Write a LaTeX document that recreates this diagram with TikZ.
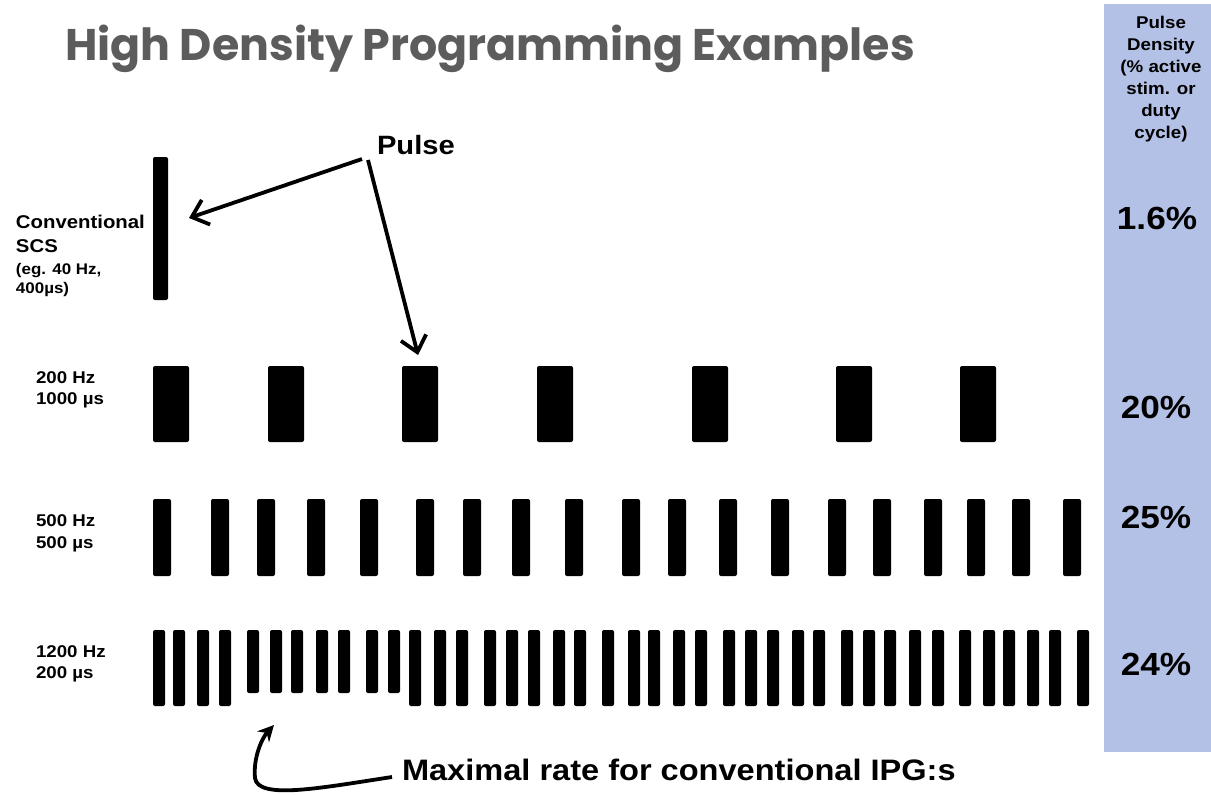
\documentclass[tikz,border=0pt]{standalone}
\usepackage{fontspec}
\usetikzlibrary{arrows.meta}
\newfontfamily\lab{Liberation Sans}[FakeStretch=1.1]
\newfontfamily\ttlf{Poppins}
\definecolor{colblue}{RGB}{180,193,230}
\definecolor{ttlgray}{RGB}{92,92,92}
\newcommand\fsz[2]{\fontsize{#1}{#2}\selectfont}
\begin{document}
\begin{tikzpicture}[x=1pt,y=-1pt,
  pulsebar/.style={fill=black, draw=none, rounded corners=2pt, inner sep=0pt, outer sep=0pt, anchor=north west},
  txt/.style={inner sep=0pt, outer sep=0pt, anchor=base west, font=\lab\bfseries\fsz{17}{20}},
  ctxt/.style={inner sep=0pt, outer sep=0pt, anchor=base, font=\lab\bfseries\fsz{17}{20}},
  pct/.style={inner sep=0pt, outer sep=0pt, anchor=base, font=\lab\bfseries\fsz{32}{36}},
  arr/.style={line width=3.8pt, -{Straight Barb[length=15pt,width=26pt]}},
  carr/.style={line width=3.8pt, -{Stealth[length=16pt,width=16pt]}},
 ]
\useasboundingbox (0,0) rectangle (1211,795);
\fill[white] (0,0) rectangle (1211,795);
% right column
\fill[colblue] (1104,4) rectangle (1212,752);
\node[ctxt] (hd1) at (1161,28) {Pulse};
\node[ctxt] (hd2) at (1161,50) {Density};
\node[ctxt] (hd3) at (1161,72) {(\% active};
\node[ctxt] (hd4) at (1161,94) {stim. or};
\node[ctxt] (hd5) at (1161,116) {duty};
\node[ctxt] (hd6) at (1161,138) {cycle)};
\node[pct] (pd1) at (1157,229.5) {1.6\%};
\node[pct] (pd2) at (1156,418.5) {20\%};
\node[pct] (pd3) at (1156,528.5) {25\%};
\node[pct] (pd4) at (1156,675.5) {24\%};
% title
\node[anchor=base west, inner sep=0pt, text=ttlgray, font=\ttlf\bfseries\fsz{44.3}{50}] (title) at (65,60) {High Density Programming Examples};
% left labels
\node[txt, font=\lab\bfseries\fsz{18.5}{22}] (l1a) at (16,228) {Conventional};
\node[txt, font=\lab\bfseries\fsz{18.5}{22}] (l1b) at (16,252) {SCS};
\node[txt, font=\lab\bfseries\fsz{15.4}{18}] (l1c) at (16,274) {(eg. 40 Hz,};
\node[txt, font=\lab\bfseries\fsz{15.4}{18}] (l1d) at (16,293) {400µs)};
\node[txt] (l2a) at (36,383) {200 Hz};
\node[txt] (l2b) at (36,404) {1000 µs};
\node[txt] (l3a) at (36,526) {500 Hz};
\node[txt] (l3b) at (36,548) {500 µs};
\node[txt] (l4a) at (36,657) {1200 Hz};
\node[txt] (l4b) at (36,678) {200 µs};
% bars
\node[pulsebar, minimum width=15pt, minimum height=143pt] (conv) at (153,157) {};
\foreach \x [count=\i] in {153,268,402,537,692,836,960}{
  \node[pulsebar, minimum width=36pt, minimum height=76pt] (b2-\i) at (\x,366) {};
}
\foreach \x [count=\i] in {153,211,257,307,360,416,463,512,565,622,668,719,771,828,873,924,967,1012,1063}{
  \node[pulsebar, minimum width=18pt, minimum height=77pt] (b3-\i) at (\x,499) {};
}
\foreach \x [count=\i] in {153,173,197,219,247,270,291,316,338,366,388,409,434,456,484,506,528,553,574,602,628,648,673,695,723,745,767,792,813,841,863,884,909,932,959,983,1003,1027,1049,1077}{
  \pgfmathtruncatemacro\hh{(\i>4 && \i<12) ? 63 : 76}
  \node[pulsebar, minimum width=12pt, minimum height=\hh pt] (b4-\i) at (\x,630) {};
}
% Pulse label and arrows
\node[txt, font=\lab\bfseries\fsz{26.5}{30}] (pulse) at (377,154.5) {Pulse};
\draw[arr] ([shift={(-15pt,-4.5pt)}]pulse.base west) -- ([shift={(21pt,10.5pt)}]conv.east);
\draw[arr] ([shift={(-9pt,-5.5pt)}]pulse.base west) -- ([shift={(-2pt,11pt)}]b2-3.north);
% bottom note
\node[txt, font=\lab\bfseries\fsz{29.6}{34}] (maxr) at (402,780.6) {Maximal rate for conventional IPG:s};
\draw[carr] ([shift={(-10pt,3.6pt)}]maxr.base west) .. controls (320,788) and (258,800) .. (255,778)
  .. controls (253,758) and (262,738) .. ([shift={(-2pt,-32pt)}]b4-6.south);
\end{tikzpicture}
\end{document}
